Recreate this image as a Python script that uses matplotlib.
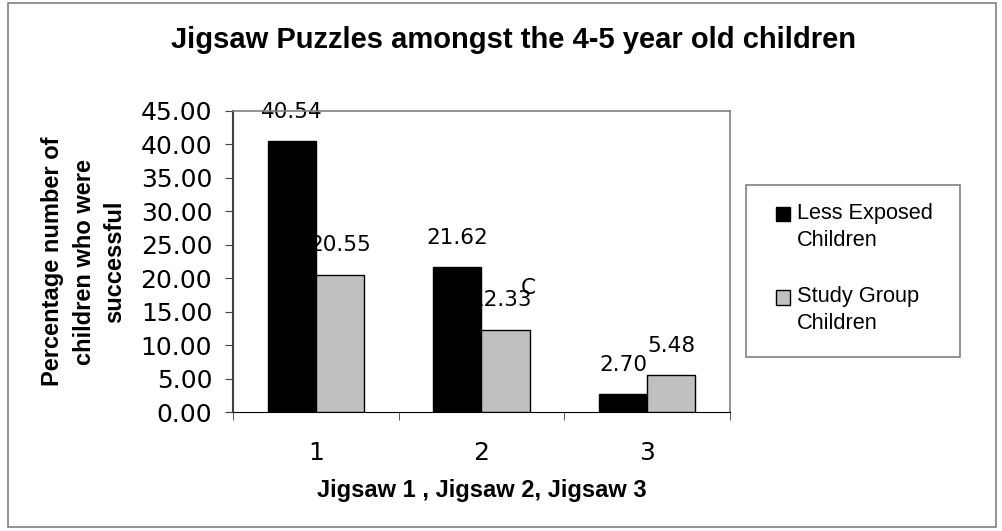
import matplotlib
matplotlib.use("Agg")
import matplotlib.pyplot as plt
import numpy as np
from matplotlib.patches import Rectangle

categories = ["1", "2", "3"]
less_exposed = [40.54, 21.62, 2.70]
study_group = [20.55, 12.33, 5.48]
series_names = ["Less Exposed\nChildren", "Study Group\nChildren"]
series_colors = ["black", "#c0c0c0"]
yticks = [0, 5, 10, 15, 20, 25, 30, 35, 40, 45]

fig = plt.figure(figsize=(10.02, 5.31), dpi=100)
ax = fig.add_axes([0.2325, 0.224, 0.496, 0.567])

# outer chart border
fig.patches.append(Rectangle((0.008, 0.008), 0.986, 0.986, transform=fig.transFigure,
                             fill=False, edgecolor="#808080", linewidth=1.2))

x = np.arange(1, len(categories) + 1)
w = 0.29
b1 = ax.bar(x - w / 2, less_exposed, w, color=series_colors[0], edgecolor="black",
            linewidth=1, zorder=3)
b2 = ax.bar(x + w / 2, study_group, w, color=series_colors[1], edgecolor="black",
            linewidth=1, zorder=3)

# value labels sit behind the bars, so neighbouring bars can cover them
label_dx = [[0, 0, 0], [0, -3, 0]]
for bars, vals, dxs in ((b1, less_exposed, label_dx[0]), (b2, study_group, label_dx[1])):
    for r, v, dx in zip(bars, vals, dxs):
        ax.annotate(f"{v:.2f}", (r.get_x() + r.get_width() / 2, v),
                    xytext=(dx, 21), textcoords="offset points",
                    ha="center", va="center", fontsize=15.5,
                    family="DejaVu Sans", zorder=1, annotation_clip=False)
ax.text(2.28, 18.5, "C", ha="center", va="center", fontsize=15.5,
        family="DejaVu Sans", zorder=1)

ax.set_xlim(0.5, 3.5)
ax.set_ylim(0, 45)
ax.set_yticks(yticks)
ax.set_yticklabels([f"{t:.2f}" for t in yticks], family="DejaVu Sans", fontsize=18)
ax.set_xticks(x)
ax.set_xticklabels(categories, family="DejaVu Sans", fontsize=18)
ax.set_xticks([0.5, 1.5, 2.5, 3.5], minor=True)
ax.tick_params(axis="x", which="major", length=0, pad=21)
ax.tick_params(axis="x", which="minor", length=6, direction="out", color="#404040")
ax.tick_params(axis="y", length=6, direction="out", color="#404040", pad=9)

for s in ("top", "right"):
    ax.spines[s].set_color("#808080")
    ax.spines[s].set_linewidth(1.2)
ax.spines["left"].set_color("#404040")
ax.spines["left"].set_linewidth(1.5)
ax.spines["bottom"].set_color("black")

fig.text(0.512, 0.925, "Jigsaw Puzzles amongst the 4-5 year old children",
         ha="center", va="center", fontsize=21, fontweight="bold",
         family="Liberation Sans")
ax.set_xlabel("Jigsaw 1 , Jigsaw 2, Jigsaw 3", fontsize=17, fontweight="bold",
              family="Liberation Sans", labelpad=10)
ax.set_ylabel("Percentage number of\nchildren who were\nsuccessful", fontsize=17,
              fontweight="bold", family="Liberation Sans", labelpad=10,
              linespacing=1.45)

# legend box drawn by hand
fig.patches.append(Rectangle((0.7445, 0.3277), 0.2136, 0.3239, transform=fig.transFigure,
                             facecolor="white", edgecolor="#808080", linewidth=1.2))
for i, (name, col) in enumerate(zip(series_names, series_colors)):
    sy = 1 - (214 + i * 83.5) / 531
    fig.patches.append(Rectangle((0.7745, sy - 0.0141), 0.014, 0.0282,
                                 transform=fig.transFigure, facecolor=col,
                                 edgecolor="black", linewidth=1))
    fig.text(0.7955, sy + 0.021, name, ha="left", va="top", fontsize=15.7,
             family="Liberation Sans", linespacing=1.38)

fig.savefig("out.png", dpi=100)
